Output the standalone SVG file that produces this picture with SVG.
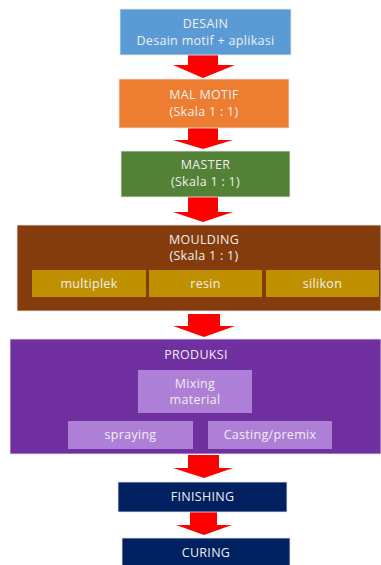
<svg xmlns="http://www.w3.org/2000/svg" width="381" height="565" viewBox="0 0 381 565">
<defs>
<style>
text{font-family:"Open Sans","Liberation Sans",sans-serif;font-size:12.5px;font-weight:500;letter-spacing:0.3px;fill:#EFEFEF;text-anchor:middle}
.box{stroke:#E8E8F0;stroke-width:0.8}
.arr{fill:#FF0000}
</style>
</defs>
<rect width="381" height="565" fill="#FFFFFF"/>
<g id="connectors">
<polygon class="arr" points="188,55 218,55 218,65 235,65 203,78 173,65 188,65"/>
<polygon class="arr" points="188,128 218,128 218,140 233,140 203,149 173,140 188,140"/>
<polygon class="arr" points="188,197 218,197 218,212 233,212 203,222 173,212 188,212"/>
<polygon class="arr" points="188,314 220,314 220,326 235,326 204,337 173,326 188,326"/>
<polygon class="arr" points="188,455 219,455 219,468 233,468 204,478 173,468 188,468"/>
<polygon class="arr" points="190,512 217,512 217,525 232,525 204,535 176,525 190,525"/>
</g>
<g id="desain">
<rect class="box" x="120" y="9" width="171" height="46" fill="#5B9BD5"/>
<text x="205.5" y="28">DESAIN</text>
<text x="205.5" y="45">Desain motif + aplikasi</text>
</g>
<g id="mal-motif">
<rect class="box" x="119" y="79" width="170" height="49" fill="#ED7D31"/>
<text x="204" y="99">MAL MOTIF</text>
<text x="204" y="116">(Skala 1 : 1)</text>
</g>
<g id="master">
<rect class="box" x="121" y="151" width="169" height="46" fill="#538135"/>
<text x="205.5" y="169">MASTER</text>
<text x="205.5" y="186">(Skala 1 : 1)</text>
</g>
<g id="moulding">
<rect class="box" x="17" y="225" width="364" height="86" fill="#843C0C"/>
<text x="204" y="244">MOULDING</text>
<text x="204" y="260">(Skala 1 : 1)</text>
<g id="multiplek">
<rect x="32" y="270" width="114" height="27" fill="#BF9000"/>
<text x="89" y="288">multiplek</text>
</g>
<g id="resin">
<rect x="149" y="270" width="113" height="27" fill="#BF9000"/>
<text x="205.5" y="288">resin</text>
</g>
<g id="silikon">
<rect x="266" y="270" width="113" height="27" fill="#BF9000"/>
<text x="322.5" y="288">silikon</text>
</g>
</g>
<g id="produksi">
<rect class="box" x="10" y="339" width="371" height="115" fill="#7030A0"/>
<text x="196" y="359">PRODUKSI</text>
<g id="mixing">
<rect x="138" y="370" width="114" height="43" fill="#AE7FD6"/>
<text x="195" y="388">Mixing</text>
<text x="195" y="404">material</text>
</g>
<g id="spraying">
<rect x="68" y="421" width="125" height="28" fill="#AE7FD6"/>
<text x="130.5" y="439">spraying</text>
</g>
<g id="casting">
<rect x="208" y="421" width="124" height="28" fill="#AE7FD6"/>
<text x="270" y="439">Casting/premix</text>
</g>
</g>
<g id="finishing">
<rect class="box" x="118" y="482" width="169" height="30" fill="#002060"/>
<text x="202.5" y="501">FINISHING</text>
</g>
<g id="curing">
<rect class="box" x="122" y="538" width="168" height="30" fill="#002060"/>
<text x="206" y="557">CURING</text>
</g>
</svg>
